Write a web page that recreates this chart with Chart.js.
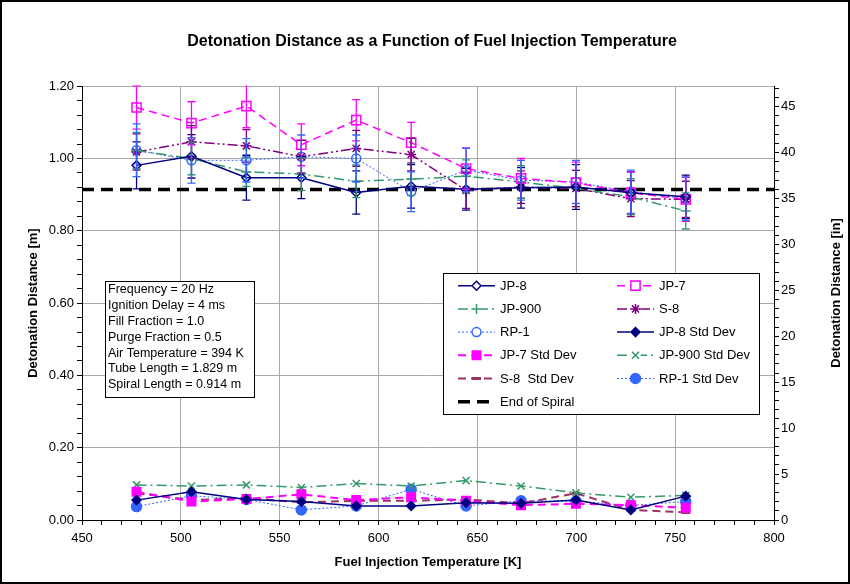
<!DOCTYPE html>
<html><head><meta charset="utf-8">
<script src="https://cdn.jsdelivr.net/npm/chart.js@4.4.1/dist/chart.umd.min.js"></script>
<style>
html,body{margin:0;padding:0;background:#fff;}
#wrap{position:relative;width:850px;height:584px;}
canvas{display:block;}
#frame{position:absolute;left:0;top:0;width:850px;height:584px;box-sizing:border-box;border:2px solid #000;pointer-events:none;}
</style></head><body>
<div id="wrap"><canvas id="c" width="850" height="584" style="width:850px;height:584px"></canvas><div id="frame"></div></div>
<script>
// ---------- DATA ----------
const temps = [477.59, 505.37, 533.15, 560.93, 588.71, 616.48, 644.26, 672.04, 699.82, 727.59, 755.37];

const jp8   = [0.981, 1.006, 0.947, 0.947, 0.906, 0.923, 0.915, 0.919, 0.921, 0.905, 0.894];
const jp7   = [1.141, 1.098, 1.145, 1.038, 1.106, 1.044, 0.972, 0.945, 0.933, 0.905, 0.887];
const jp900 = [1.022, 1.000, 0.963, 0.957, 0.937, 0.943, 0.951, 0.935, 0.917, 0.894, 0.855];
const s8    = [1.018, 1.046, 1.035, 1.005, 1.028, 1.011, 0.912, 0.921, 0.917, 0.889, 0.887];
const rp1   = [1.023, 0.995, 0.995, 1.005, 1.000, 0.908, 0.968, 0.940, 0.935, 0.908, 0.889];

const jp8Std   = [0.055, 0.078, 0.057, 0.051, 0.039, 0.039, 0.048, 0.046, 0.055, 0.028, 0.066];
const jp7Std   = [0.078, 0.051, 0.058, 0.071, 0.055, 0.063, 0.053, 0.041, 0.045, 0.041, 0.034];
const jp900Std = [0.097, 0.094, 0.097, 0.090, 0.101, 0.094, 0.109, 0.094, 0.075, 0.063, 0.068];
const s8Std    = [0.074, 0.055, 0.060, 0.049, 0.053, 0.053, 0.057, 0.046, 0.074, 0.028, 0.021];
const rp1Std   = [0.037, 0.067, 0.057, 0.028, 0.039, 0.085, 0.039, 0.053, 0.052, 0.040, 0.051];

// error bar half-heights shown on the averaged series
const jp8Err   = [0.065, 0.060, 0.062, 0.058, 0.060, 0.060, 0.058, 0.056, 0.062, 0.058, 0.060];
const jp7Err   = [0.060, 0.059, 0.060, 0.058, 0.057, 0.056, 0.057, 0.055, 0.057, 0.058, 0.061];
const jp900Err = [0.050, 0.045, 0.040, 0.045, 0.045, 0.045, 0.045, 0.045, 0.050, 0.050, 0.050];
const s8Err    = [0.050, 0.045, 0.045, 0.045, 0.050, 0.045, 0.050, 0.045, 0.050, 0.050, 0.050];
const rp1Err   = [0.073, 0.063, 0.060, 0.060, 0.065, 0.055, 0.060, 0.055, 0.060, 0.060, 0.060];

const endOfSpiral = 0.914;
const seriesNames = ['JP-8','JP-7','JP-900','S-8','RP-1','JP-8 Std Dev','JP-7 Std Dev','JP-900 Std Dev','S-8  Std Dev','RP-1 Std Dev','End of Spiral'];
const infoLines = ['Frequency = 20 Hz','Ignition Delay = 4 ms','Fill Fraction = 1.0','Purge Fraction = 0.5','Air Temperature = 394 K','Tube Length = 1.829 m','Spiral Length = 0.914 m'];
const xRange = [450, 800];
const yRange = [0, 1.2];
const mPerIn = 0.0254;
const chartTitle = 'Detonation Distance as a Function of Fuel Injection Temperature';
const xTitle = 'Fuel Injection Temperature [K]';
const yTitle = 'Detonation Distance [m]';
const y2Title = 'Detonation Distance [in]';

// ---------- BUILD ----------
const FONT = "'Liberation Sans', Arial, sans-serif";
const pts = v => temps.map((t,i)=>({x:t,y:v[i]}));
const NAVY='#000080', MAG='#FF00FF', GREEN='#339966', PURP='#800080', BLUE='#3366FF', PLUM='#993366';

function ds(i, vals, color, style, radius, filled, dash, width, errs){
  return {label:seriesNames[i], data:pts(vals), borderColor:color, backgroundColor: filled?color:'rgba(0,0,0,0)',
    pointStyle:style, pointRadius:radius, pointBorderColor:color, pointBackgroundColor: filled?color:'rgba(0,0,0,0)',
    pointBorderWidth: style==='line'?3:1.5, borderDash:dash, borderWidth:width, tension:0, fill:false, errors:errs};
}
const datasets = [
  ds(0, jp8, NAVY, 'rectRot', 4.5, false, [], 1.5, jp8Err),
  ds(1, jp7, MAG, 'rect', 6.5, false, [8,5], 1.5, jp7Err),
  ds(2, jp900, GREEN, 'cross', 5, false, [10,4,2,4], 1.5, jp900Err),
  ds(3, s8, PURP, 'star', 5, false, [10,3,2,3,2,3], 1.5, s8Err),
  ds(4, rp1, BLUE, 'circle', 4.5, false, [2,2], 1, rp1Err),
  ds(5, jp8Std, NAVY, 'rectRot', 4.5, true, [], 1.5, null),
  ds(6, jp7Std, MAG, 'rect', 6, true, [8,5], 2, null),
  ds(7, jp900Std, GREEN, 'crossRot', 5, false, [10,4,2,4], 1.5, null),
  ds(8, s8Std, PLUM, 'line', 4.5, false, [8,5], 2, null),
  ds(9, rp1Std, BLUE, 'circle', 5, true, [2,2], 1, null),
  {label:seriesNames[10], data:[{x:xRange[0],y:endOfSpiral},{x:xRange[1],y:endOfSpiral}], borderColor:'#000', backgroundColor:'#000',
   borderDash:[12,7], borderWidth:3.5, pointRadius:0, pointStyle:'line', tension:0, fill:false}
];

const isMul = (v, s) => Math.abs(v/s - Math.round(v/s)) < 1e-6;
const GRID='#a8a8a8';

const errorBars = {
  id:'errorBars',
  afterDatasetsDraw(chart){
    const ctx=chart.ctx, xs=chart.scales.x, ys=chart.scales.y, a=chart.chartArea;
    ctx.save();
    ctx.beginPath(); ctx.rect(a.left,a.top-1,a.right-a.left,a.bottom-a.top+1); ctx.clip();
    chart.data.datasets.forEach(d=>{
      if(!d.errors) return;
      ctx.strokeStyle=d.borderColor; ctx.lineWidth=1.3; ctx.setLineDash([]);
      d.data.forEach((p,i)=>{
        const x=xs.getPixelForValue(p.x);
        const t=ys.getPixelForValue(p.y+d.errors[i]), b=ys.getPixelForValue(p.y-d.errors[i]);
        ctx.beginPath();
        ctx.moveTo(x,t); ctx.lineTo(x,b);
        ctx.moveTo(x-4,t); ctx.lineTo(x+4,t);
        ctx.moveTo(x-4,b); ctx.lineTo(x+4,b);
        ctx.stroke();
      });
    });
    ctx.restore();
  }
};

const boxes = {
  id:'boxes',
  afterDraw(chart){
    const ctx=chart.ctx;
    ctx.save();
    // legend
    const bx=443, by=273, bw=316, bh=141;
    ctx.fillStyle='#fff'; ctx.fillRect(bx,by,bw,bh);
    ctx.strokeStyle='#000'; ctx.lineWidth=1; ctx.setLineDash([]);
    ctx.strokeRect(bx+0.5,by+0.5,bw,bh);
    ctx.font='13px '+FONT; ctx.textBaseline='middle'; ctx.textAlign='left';
    chart.data.datasets.forEach((d,k)=>{
      const col=k%2, row=Math.floor(k/2);
      const x0=[458,617][col], y=285.7+row*23.2, len=37;
      ctx.save();
      ctx.strokeStyle=d.borderColor; ctx.lineWidth=d.borderWidth; ctx.setLineDash(d.borderDash||[]);
      ctx.beginPath(); ctx.moveTo(x0,y); ctx.lineTo(x0+len,y); ctx.stroke();
      ctx.setLineDash([]);
      if(d.pointRadius>0){
        ctx.strokeStyle=d.pointBorderColor;
        ctx.lineWidth=d.pointBorderWidth;
        if(d.pointStyle!=='line'){ ctx.fillStyle='#fff'; ctx.fillRect(x0+len/2-5,y-5,10,10); }
        ctx.fillStyle=d.pointBackgroundColor;
        Chart.helpers.drawPoint(ctx,{pointStyle:d.pointStyle,radius:d.pointRadius,rotation:0,borderWidth:d.pointBorderWidth},x0+len/2,y);
      }
      ctx.restore();
      ctx.fillStyle='#000';
      ctx.fillText(d.label,x0+len+5,y+0.5);
    });
    // info box
    const ix=105, iy=281, iw=149, ih=116;
    ctx.fillStyle='#fff'; ctx.fillRect(ix,iy,iw,ih);
    ctx.strokeStyle='#000'; ctx.lineWidth=1;
    ctx.strokeRect(ix+0.5,iy+0.5,iw,ih);
    ctx.fillStyle='#000'; ctx.font='12.5px '+FONT;
    infoLines.forEach((s,i)=>ctx.fillText(s,108,289.5+i*15.9));
    // right axis title
    ctx.save();
    ctx.translate(836,293); ctx.rotate(-Math.PI/2);
    ctx.font='bold 13px '+FONT; ctx.textAlign='center'; ctx.textBaseline='middle';
    ctx.fillText(y2Title,0,0);
    ctx.restore();
    ctx.restore();
  }
};

new Chart(document.getElementById('c'), {
  type:'line',
  data:{datasets},
  options:{
    responsive:false, animation:false, devicePixelRatio:1,
    layout:{padding:{left:20,right:6,top:0,bottom:6}},
    plugins:{
      legend:{display:false}, tooltip:{enabled:false},
      title:{display:true,text:chartTitle,color:'#000',font:{family:FONT,size:16,weight:'bold'},padding:{top:32,bottom:35}}
    },
    scales:{
      x:{type:'linear',position:'bottom',min:xRange[0],max:xRange[1],
        afterFit(s){s.height=58;},
        ticks:{stepSize:10,autoSkip:false,maxRotation:0,color:'#000',padding:6,font:{family:FONT,size:13},
          callback:v=>isMul(v,50)?String(v):''},
        grid:{color:c=>isMul(c.tick.value,50)?GRID:'rgba(0,0,0,0)',lineWidth:1,drawTicks:true,tickLength:5,tickColor:'#000'},
        border:{display:true,color:'#000',width:1},
        title:{display:true,text:xTitle,color:'#000',font:{family:FONT,size:13,weight:'bold'},padding:{top:0,bottom:8}}
      },
      y:{type:'linear',position:'left',min:yRange[0],max:yRange[1],
        afterFit(s){s.width=62;},
        ticks:{stepSize:0.04,autoSkip:false,color:'#000',padding:3,font:{family:FONT,size:13},
          callback:v=>isMul(v,0.2)?v.toFixed(2):''},
        grid:{color:c=>isMul(c.tick.value,0.2)?GRID:'rgba(0,0,0,0)',lineWidth:1,drawTicks:true,tickLength:5,tickColor:'#000'},
        border:{display:true,color:'#000',width:1},
        title:{display:true,text:yTitle,color:'#000',font:{family:FONT,size:13,weight:'bold'},padding:{top:6,bottom:0}}
      },
      y2:{type:'linear',position:'right',min:yRange[0]/mPerIn,max:yRange[1]/mPerIn,
        afterFit(s){s.width=70;},
        ticks:{stepSize:1,autoSkip:false,includeBounds:false,color:'#000',padding:2,font:{family:FONT,size:13},
          callback:v=>isMul(v,5)?String(Math.round(v)):''},
        grid:{drawOnChartArea:false,drawTicks:true,tickLength:5,tickColor:'#000'},
        border:{display:true,color:'#000',width:1}
      }
    }
  },
  plugins:[errorBars, boxes]
});
</script>
</body></html>
